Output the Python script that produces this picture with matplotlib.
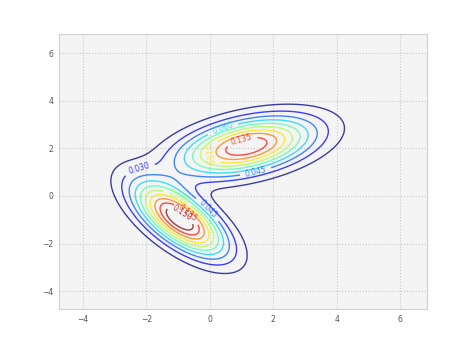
import numpy as np
import matplotlib
matplotlib.use("Agg")
import matplotlib.pyplot as plt

# mixture components (centre, spread along / across the long axis, tilt in degrees, peak weight)
means = [(1.15, 2.08), (-0.95, -0.98)]
sigma_major = [1.5, 1.3]
sigma_minor = [0.72, 0.58]
angles = [18, -48]
weights = [1.013, 0.78]

levels = [0.015, 0.030, 0.045, 0.060, 0.075, 0.090, 0.105, 0.120, 0.135, 0.150]

# where the inline labels sit
label_pos = [(-2.2, 1.05), (-0.06, -0.55), (1.45, 0.98), (0.4, 2.85), (1.0, 2.4),
             (-0.1, 1.75), (-1.0, -0.05), (-0.85, -0.65), (-0.85, -0.95)]

xlim = (-4.76, 6.85)
ylim = (-4.75, 6.8)


def density(X, Y):
    Z = np.zeros_like(X)
    for m, sa, sb, ang, w in zip(means, sigma_major, sigma_minor, angles, weights):
        t = np.radians(ang)
        R = np.array([[np.cos(t), -np.sin(t)], [np.sin(t), np.cos(t)]])
        cov = R @ np.diag([sa**2, sb**2]) @ R.T
        inv = np.linalg.inv(cov)
        dx, dy = X - m[0], Y - m[1]
        q = inv[0, 0]*dx*dx + 2*inv[0, 1]*dx*dy + inv[1, 1]*dy*dy
        Z += w / (2*np.pi*np.sqrt(np.linalg.det(cov))) * np.exp(-0.5*q)
    return Z


xs = np.linspace(xlim[0], xlim[1], 400)
ys = np.linspace(ylim[0], ylim[1], 400)
X, Y = np.meshgrid(xs, ys)
Z = density(X, Y)

fig = plt.figure(figsize=(4.74, 3.44), dpi=100)
ax = fig.add_axes([0.1245, 0.1017, 0.7764, 0.7994])
ax.set_facecolor('#f4f4f4')
for s in ax.spines.values():
    s.set_color('#cfcfcf')
    s.set_linewidth(0.8)

ax.grid(True, linestyle=':', color='#c8c8c8', linewidth=0.8)
ax.set_axisbelow(True)

cs = ax.contour(X, Y, Z, levels=levels, cmap='jet', linewidths=1.0, alpha=0.75)
ax.clabel(cs, fontsize=5.5, fmt='%.3f', inline=True, manual=label_pos)

ax.set_xlim(xlim)
ax.set_ylim(ylim)
ax.set_xticks([-4, -2, 0, 2, 4, 6])
ax.set_yticks([-4, -2, 0, 2, 4, 6])
ax.tick_params(length=0, labelsize=5.5, labelcolor='#555555', pad=4)

fig.savefig('out.png', dpi=100)
